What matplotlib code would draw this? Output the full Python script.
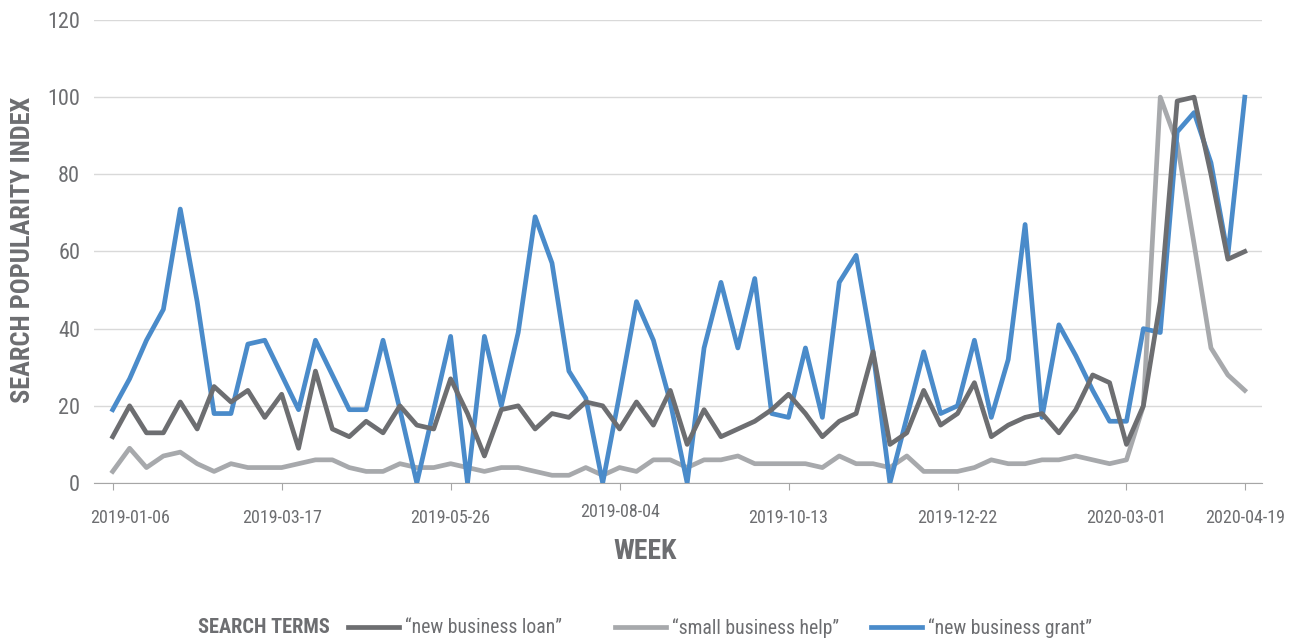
import matplotlib
matplotlib.use('Agg')
import matplotlib.pyplot as plt
from matplotlib import font_manager
from matplotlib.transforms import ScaledTranslation

# weekly search popularity, 2019-01-06 .. 2020-04-19
loan = [12, 20, 13, 13, 21, 14, 25, 21, 24, 17,
        23, 9, 29, 14, 12, 16, 13, 20, 15, 14,
        27, 18, 7, 19, 20, 14, 18, 17, 21, 20,
        14, 21, 15, 24, 10, 19, 12, 14, 16, 19,
        23, 18, 12, 16, 18, 34, 10, 13, 24, 15,
        18, 26, 12, 15, 17, 18, 13, 19, 28, 26,
        10, 20, 47, 99, 100, 80, 58, 60]
helpq = [3, 9, 4, 7, 8, 5, 3, 5, 4, 4,
         4, 5, 6, 6, 4, 3, 3, 5, 4, 4,
         5, 4, 3, 4, 4, 3, 2, 2, 4, 2,
         4, 3, 6, 6, 4, 6, 6, 7, 5, 5,
         5, 5, 4, 7, 5, 5, 4, 7, 3, 3,
         3, 4, 6, 5, 5, 6, 6, 7, 6, 5,
         6, 20, 100, 88, 62, 35, 28, 24]
grant = [19, 27, 37, 45, 71, 47, 18, 18, 36, 37,
         28, 19, 37, 28, 19, 19, 37, 19, 0, 19,
         38, 0, 38, 20, 39, 69, 57, 29, 22, 0,
         23, 47, 37, 21, 0, 35, 52, 35, 53, 18,
         17, 35, 17, 52, 59, 34, 0, 17, 34, 18,
         20, 37, 17, 32, 67, 17, 41, 33, 24, 16,
         16, 40, 39, 91, 96, 83, 59, 100]
tick_pos = [0, 10, 20, 30, 40, 50, 60, 67]
tick_labels = ['2019-01-06', '2019-03-17', '2019-05-26', '2019-08-04',
               '2019-10-13', '2019-12-22', '2020-03-01', '2020-04-19']
series_names = ['\u201cnew business loan\u201d', '\u201csmall business help\u201d',
                '\u201cnew business grant\u201d']
weeks = list(range(len(loan)))

# condensed face if there is one
names = {f.name for f in font_manager.fontManager.ttflist}
face = 'Roboto'
for n in ['Roboto Condensed', 'Liberation Sans Narrow']:
    if n in names:
        face = n
        break
plt.rcParams['font.family'] = [face, 'DejaVu Sans']

txt = '#6d6e71'
colors = ['#6d6e71', '#a7a9ac', '#4a8bca']

fig = plt.figure(figsize=(12.98, 6.41), dpi=100)
ax = fig.add_axes([0.0725, 0.2465, 0.8995, 0.7223])

l1, = ax.plot(weeks, loan, color=colors[0], lw=3.4, zorder=3)
l2, = ax.plot(weeks, helpq, color=colors[1], lw=3.4, zorder=2)
l3, = ax.plot(weeks, grant, color=colors[2], lw=3.4, zorder=2.5)

ax.set_xlim(-1.1, 68)
ax.set_ylim(0, 120)
ax.set_yticks([0, 20, 40, 60, 80, 100, 120])
ax.grid(axis='y', color='#d9d9d9', lw=1)
ax.set_axisbelow(True)
for s in ['top', 'right', 'left']:
    ax.spines[s].set_visible(False)
ax.spines['bottom'].set_color('#a6a6a6')
ax.spines['bottom'].set_zorder(1)

ax.set_xticks(tick_pos)
ax.set_xticklabels(tick_labels)
ax.tick_params(axis='x', length=5, color='#a6a6a6', pad=14, labelsize=13, labelcolor=txt)
ax.tick_params(axis='y', length=0, pad=10, labelsize=16, labelcolor=txt)
ax.xaxis.get_major_ticks()[3].set_pad(9.5)
# first label sits a bit right of its tick
lab0 = ax.xaxis.get_major_ticks()[0].label1
lab0.set_transform(lab0.get_transform() + ScaledTranslation(0.17, 0, fig.dpi_scale_trans))

ax.set_xlabel('WEEK', fontsize=20, fontweight='bold', color=txt)
ax.xaxis.set_label_coords(0.472, -0.118)
ax.set_ylabel('SEARCH POPULARITY INDEX', fontsize=19, fontweight='bold', color=txt)
ax.yaxis.set_label_coords(-0.051, 0.503)

fig.text(198 / 1298, 0.0203, 'SEARCH TERMS', fontsize=14.7, fontweight='bold',
         color=txt, va='center')
for line, name, x in zip([l1, l2, l3], series_names, [348, 615, 871]):
    fig.legend([line], [name], loc='center left', bbox_to_anchor=(x / 1298, 0.0203),
               frameon=False, borderpad=0, borderaxespad=0, fontsize=14.2,
               labelcolor=txt, handlelength=2.6, handletextpad=0.27)

plt.savefig('out.png', dpi=100)
